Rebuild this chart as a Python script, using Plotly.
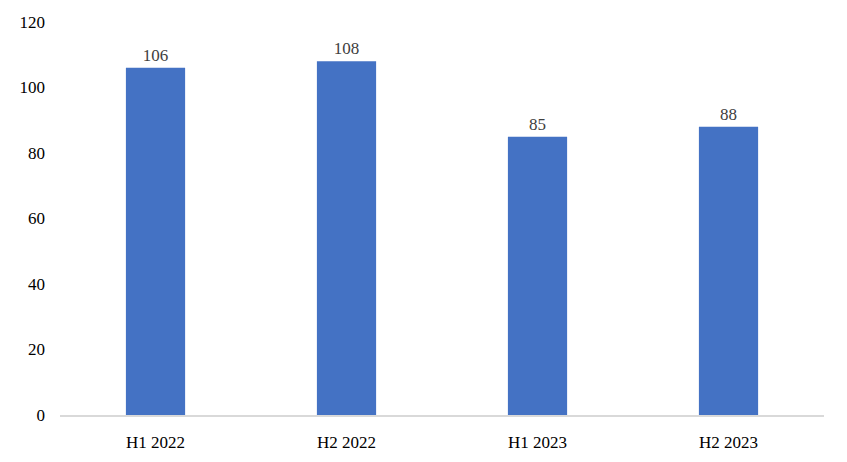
import plotly.graph_objects as go

categories = ["H1 2022", "H2 2022", "H1 2023", "H2 2023"]
values = [106, 108, 85, 88]
y_ticks = [0, 20, 40, 60, 80, 100, 120]

fig = go.Figure(go.Bar(
    x=categories, y=values,
    marker=dict(color="#4472C4", line=dict(width=0)),
    text=[str(v) for v in values], textposition="outside",
    textfont=dict(family="Liberation Serif", size=17, color="#404040"),
    cliponaxis=False,
))
fig.update_layout(
    width=847, height=462,
    margin=dict(l=52, r=31, t=14, b=55),
    paper_bgcolor="white", plot_bgcolor="white",
    bargap=0.69,
    showlegend=False,
    font=dict(family="Liberation Serif", size=17, color="#000000"),
)
fig.update_xaxes(showline=True, linecolor="#D9D9D9", linewidth=1.5, automargin=False,
                 showgrid=False, ticks="", ticklabelstandoff=11, tickfont=dict(size=17))
fig.update_yaxes(range=[0, 120], tickvals=y_ticks, showgrid=False, zeroline=False, automargin=False,
                 showline=False, ticks="", ticklabelstandoff=14, tickfont=dict(size=17))
fig.write_html("out.html")
